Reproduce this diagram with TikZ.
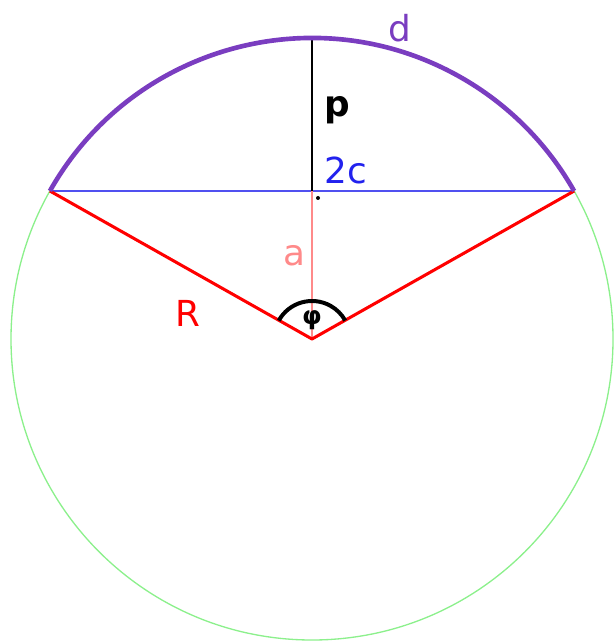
\documentclass[tikz,border=0pt]{standalone}
\usepackage{fontspec}
\setmainfont{DejaVu Sans}
\definecolor{circgreen}{HTML}{8CF08C}
\definecolor{chordblue}{HTML}{5050F0}
\definecolor{textblue}{HTML}{2222EE}
\definecolor{arcpurple}{HTML}{7A3DC0}
\definecolor{apink}{HTML}{FF8A8A}
\begin{document}
\begin{tikzpicture}[x=0.0265cm,y=-0.0265cm,font=\fontsize{27}{30}\selectfont]
\useasboundingbox (0,0) rectangle (613,641);
\coordinate (O) at (312,339);
\coordinate (A) at (49.9,191);
\coordinate (B) at (574.1,191);
\coordinate (M) at (312,191);
\coordinate (T) at (312,38);
\draw[circgreen,line width=1pt] (O) circle[radius=301];
\draw[chordblue,line width=1pt] (A) -- (B);
\draw[apink,line width=0.8pt] (M) -- (O);
\draw[black,line width=0.8pt] (T) -- (M);
\draw[red,line width=2.3pt,line join=round] (A) -- (O) -- (B);
\draw[arcpurple,line width=3.5pt] (A) arc[start angle=-150.55, end angle=-29.45, radius=301];
\draw[black,line width=3pt] (O) ++(-151:38) arc[start angle=-151, end angle=-29, radius=38];
\fill (318,198) circle[radius=2];
\node[arcpurple] (d) at (400,28) {d};
\node (p) at (337,110) {\textbf{p}};
\node[textblue] (c) at (346,170) {2c};
\node[apink] (a) at (294,256) {a};
\node[red] (R) at (188,313) {R};
\node (phi) at (312,320) {\fontsize{19}{21}\selectfont\textbf{φ}};
\end{tikzpicture}
\end{document}
